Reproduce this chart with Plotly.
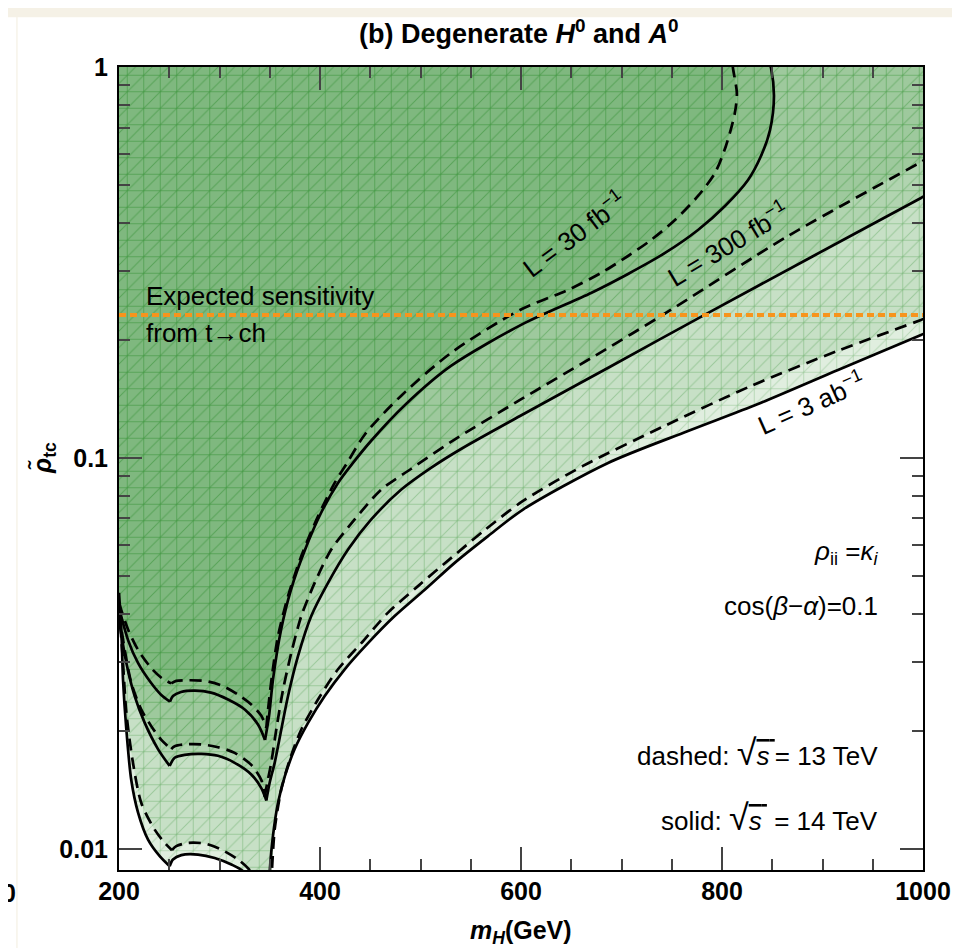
import plotly.graph_objects as go
import math

# ---------------- data ----------------
# mH in GeV, rho_tc (log axis)
s30_m = [200, 209.0, 218.9, 231.8, 241.8, 250.7, 253.7, 261.7, 275.6, 291.5, 308.5, 325.4, 338.3, 345.3,
         349.3, 353.2, 361.2, 371.1, 385.1, 401.0, 417.9, 432.8, 450.7, 484.6, 530.3, 602.0, 669.7, 706.5,
         743.3, 776.1, 803.0, 825.9, 838.8, 847.8, 851.7, 848.8, 845.8]
s30_r = [0.0414, 0.0342, 0.0299, 0.0266, 0.0248, 0.0238, 0.0246, 0.0252, 0.0254, 0.0251, 0.0241, 0.0227,
         0.0208, 0.0190, 0.0219, 0.0271, 0.0363, 0.0460, 0.0582, 0.0723, 0.0863, 0.0971, 0.1105, 0.1366,
         0.1719, 0.2202, 0.2642, 0.2955, 0.3344, 0.3829, 0.4411, 0.5141, 0.5920, 0.6902, 0.8429, 0.994, 1.054]

d30_m = [200, 209.0, 218.9, 232.1, 242.1, 252.0, 257.0, 268.7, 285.3, 301.8, 318.4, 331.6, 341.6, 346.6,
         348.3, 352.2, 358.2, 368.2, 381.4, 398.0, 414.6, 427.9, 444.8, 480.6, 530.3, 599.0, 646.8, 679.6,
         706.5, 729.4, 753.2, 776.1, 793.0, 803.9, 812.8, 814.8, 810.9, 809.9]
d30_r = [0.0426, 0.0364, 0.0323, 0.0290, 0.0274, 0.0265, 0.0269, 0.0270, 0.0269, 0.0262, 0.0248, 0.0234,
         0.0219, 0.0204, 0.0227, 0.0277, 0.0350, 0.0443, 0.0561, 0.0709, 0.0863, 0.0980, 0.1150, 0.1441,
         0.1856, 0.2390, 0.2690, 0.2972, 0.3285, 0.3610, 0.4062, 0.4678, 0.5357, 0.6281, 0.7627, 0.8580,
         0.994, 1.054]

d300_m = [200, 205.7, 212.2, 222.2, 232.1, 242.1, 252.0, 255.4, 265.4, 281.9, 298.5, 315.1, 331.6, 341.6,
          345.0, 347.6, 351.5, 356.5, 363.2, 371.4, 381.4, 394.7, 411.2, 434.5, 461.0, 490.5, 530.3, 599.0,
          670.0, 739.3, 865.7, 998.0, 1003]
d300_r = [0.0402, 0.0323, 0.0266, 0.0227, 0.0206, 0.0190, 0.0180, 0.0183, 0.0185, 0.0185, 0.0182, 0.0176,
          0.0164, 0.0150, 0.0136, 0.0148, 0.0166, 0.0202, 0.0255, 0.0317, 0.0394, 0.0479, 0.0583, 0.0696,
          0.0830, 0.0937, 0.1099, 0.1407, 0.1802, 0.2307, 0.3696, 0.5715, 0.5817]

s300_m = [200, 207.3, 215.6, 225.6, 238.8, 250.4, 255.4, 265.4, 281.9, 298.5, 315.1, 331.6, 341.6, 346.6,
          350.0, 354.9, 361.5, 368.2, 378.1, 391.3, 408.0, 427.9, 451.0, 480.9, 510.4, 540.3, 599.0, 690.0,
          783.1, 890.0, 998.0, 1003]
s300_r = [0.0385, 0.0299, 0.0246, 0.0210, 0.0180, 0.0163, 0.0171, 0.0174, 0.0175, 0.0173, 0.0166, 0.0155,
          0.0143, 0.0133, 0.0148, 0.0166, 0.0202, 0.0246, 0.0311, 0.0394, 0.0479, 0.0583, 0.0696, 0.0830,
          0.0943, 0.1054, 0.1280, 0.1719, 0.2326, 0.3276, 0.4624, 0.4706]

d3000_m = [200, 204.0, 207.3, 213.9, 222.2, 235.5, 245.5, 252.7, 257.0, 268.7, 285.3, 301.8, 318.4, 330.0,
           338.3, 351.2, 352.2, 354.9, 361.5, 369.9, 381.4, 398.0, 417.9, 441.1, 467.7, 497.5, 530.6, 563.9,
           602.0, 661.7, 745.0, 828.9, 915.0, 998.0, 1003]
d3000_r = [0.0418, 0.0299, 0.0223, 0.0166, 0.0131, 0.0112, 0.01036, 0.00992, 0.01016, 0.01036, 0.01032,
           0.00996, 0.00939, 0.00882, 0.0080, 0.0080, 0.00883, 0.0112, 0.0142, 0.0169, 0.0202, 0.0241,
           0.0288, 0.0336, 0.0402, 0.0470, 0.0555, 0.0654, 0.0776, 0.0954, 0.1215, 0.1528, 0.1878, 0.2254,
           0.2281]

s3000_m = [200, 202.3, 204.0, 207.3, 212.2, 218.9, 228.9, 240.5, 250.4, 253.7, 262.0, 278.6, 295.2, 311.8,
           323.4, 333.3, 349.3, 350.0, 353.2, 358.2, 364.9, 374.8, 388.1, 404.7, 424.6, 447.8, 474.3, 504.2,
           534.0, 567.2, 602.0, 686.6, 766.2, 835.8, 915.4, 998.0, 1003]
s3000_r = [0.0452, 0.0364, 0.0271, 0.0202, 0.0150, 0.0124, 0.01056, 0.00958, 0.00903, 0.00939, 0.00964,
           0.00967, 0.00948, 0.00912, 0.00877, 0.0080, 0.0080, 0.00877, 0.0108, 0.0131, 0.0153, 0.0180,
           0.0210, 0.0246, 0.0288, 0.0336, 0.0394, 0.0460, 0.0539, 0.0631, 0.0738, 0.0971, 0.1172, 0.1374,
           0.1679, 0.2064, 0.2088]

rho_sens = 0.232  # expected sensitivity from t -> ch

x_major = [200, 400, 600, 800, 1000]
x_minor = [250, 300, 350, 450, 500, 550, 650, 700, 750, 850, 900, 950]
y_major = [0.01, 0.1, 1]
y_major_text = ["0.01", "0.1", "1"]
y_minor = [0.02, 0.03, 0.04, 0.05, 0.06, 0.07, 0.08, 0.09, 0.2, 0.3, 0.4, 0.5, 0.6, 0.7, 0.8, 0.9]

# ---------------- figure ----------------
FONT = "Liberation Sans, Arial, Helvetica, sans-serif"
W, H = 960, 948
ML, MR, MT, MB = 111, 45, 59, 86
PW, PH = W - ML - MR, H - MT - MB


def px2paper_x(px):
    return (px - ML) / PW


def py2paper_y(py):
    return (H - MB - py) / PH


def split_at_cusps(m, r):
    """split a boundary curve at its downward cusps (local minima of rho)"""
    cuts = [0]
    for i in range(1, len(r) - 1):
        if r[i] <= r[i - 1] and r[i] <= r[i + 1]:
            cuts.append(i)
    cuts.append(len(r) - 1)
    segs = []
    for a, b in zip(cuts[:-1], cuts[1:]):
        if b > a:
            segs.append((m[a:b + 1], r[a:b + 1]))
    return segs


fig = go.Figure()

# layered exclusion regions (outer -> inner)
layers = [
    (s3000_m, s3000_r, "rgb(224,238,223)", "rgba(40,140,40,0.22)"),
    (d3000_m, d3000_r, "rgb(199,224,198)", "rgba(40,140,40,0.28)"),
    (s300_m, s300_r, "rgb(177,212,176)", "rgba(40,140,40,0.33)"),
    (d300_m, d300_r, "rgb(158,201,157)", "rgba(40,140,40,0.38)"),
    (s30_m, s30_r, "rgb(142,192,141)", "rgba(40,140,40,0.42)"),
    (d30_m, d30_r, "rgb(127,184,127)", "rgba(40,140,40,0.46)"),
]
G = 16.5
for m, r, bg, fg in layers:
    xs = list(m) + [m[-1], 600, 190, 190, 195]
    ys = list(r) + [1.6, 1.6, 1.6, r[0], r[0]]
    fig.add_trace(go.Scatter(
        x=xs, y=ys, fill="toself", mode="none", fillcolor=bg, hoverinfo="skip",
        line=dict(shape="spline", smoothing=0.8, width=0),
        fillpattern=dict(shape="+", size=G, solidity=1 - (1 - 1.0 / G) ** 2,
                         fgcolor=fg, bgcolor=bg, fgopacity=1)))
    fig.add_trace(go.Scatter(
        x=xs, y=ys, fill="toself", mode="none", fillcolor="rgba(0,0,0,0)", hoverinfo="skip",
        line=dict(shape="spline", smoothing=0.8, width=0),
        fillpattern=dict(shape="/", size=G / math.sqrt(2), solidity=1.0 / (G / math.sqrt(2)),
                         fgcolor=fg, bgcolor="rgba(0,0,0,0)", fgopacity=1)))

# boundary curves (smooth pieces between the cusps)
DASH = "12px,7px"
curves = [
    (s3000_m, s3000_r, "solid"), (d3000_m, d3000_r, DASH),
    (s300_m, s300_r, "solid"), (d300_m, d300_r, DASH),
    (s30_m, s30_r, "solid"), (d30_m, d30_r, DASH),
]
for m, r, dash in curves:
    for sm, sr in split_at_cusps(m, r):
        fig.add_trace(go.Scatter(x=sm, y=sr, mode="lines", hoverinfo="skip",
                                 line=dict(color="black", width=2.7, dash=dash,
                                           shape="spline", smoothing=0.8)))

# expected sensitivity line
fig.add_trace(go.Scatter(x=[200, 1000], y=[rho_sens, rho_sens], mode="lines", hoverinfo="skip",
                         line=dict(color="#f7941d", width=4, dash="7px,4px")))

tick_font = dict(family=FONT, size=25, color="black", weight="bold")
fig.update_xaxes(
    range=[200, 1000], tickvals=x_major, ticktext=[str(v) for v in x_major],
    ticks="inside", ticklen=23, tickwidth=1.5, tickcolor="#444",
    showline=True, linecolor="black", linewidth=2, mirror="ticks",
    showgrid=False, zeroline=False, tickfont=tick_font, ticklabelstandoff=-2,
    minor=dict(tickvals=x_minor, ticks="inside", ticklen=11, tickwidth=1.5, tickcolor="#444", showgrid=False),
)
fig.update_yaxes(
    type="log", range=[math.log10(0.00883), 0], tickvals=y_major, ticktext=y_major_text,
    ticks="inside", ticklen=23, tickwidth=1.5, tickcolor="#444",
    showline=True, linecolor="black", linewidth=2, mirror="ticks",
    showgrid=False, zeroline=False, tickfont=tick_font, ticklabelstandoff=4,
    minor=dict(tickvals=y_minor, ticks="inside", ticklen=11, tickwidth=1.5, tickcolor="#444", showgrid=False),
)

txt = dict(family=FONT, size=26, color="black")
RAD = "<span style='font-size:36px'>\u221a</span>"
SOVER = "<span style='text-decoration:overline'><i>s</i>\u2009</span>"
ann = []
# title
ann.append(dict(xref="paper", yref="paper", x=px2paper_x(511), y=py2paper_y(24),
                text="<b>(b) Degenerate <i>H</i><sup>0</sup> and <i>A</i><sup>0</sup></b>",
                showarrow=False, xanchor="center", yanchor="middle",
                font=dict(family=FONT, size=27, color="black")))
# axis titles
ann.append(dict(xref="paper", yref="paper", x=0.5, y=py2paper_y(924),
                text="<b><i>m</i><sub><i>H</i></sub>(GeV)</b>", showarrow=False,
                xanchor="center", yanchor="middle", font=dict(family=FONT, size=25, color="black")))
ann.append(dict(xref="paper", yref="paper", x=px2paper_x(36), y=py2paper_y(450),
                text="<b><i>\u03c1\u0303</i><sub>tc</sub></b>", showarrow=False, textangle=-90,
                xanchor="center", yanchor="middle", font=dict(family=FONT, size=25, color="black")))
# sensitivity text
ann.append(dict(x=224.9, y=math.log10(0.2597), text="Expected sensitivity", showarrow=False,
                xanchor="left", yanchor="middle", font=txt))
ann.append(dict(x=224.9, y=math.log10(0.2088), text="from t\u2192ch", showarrow=False,
                xanchor="left", yanchor="middle", font=txt))
# curve labels
ann.append(dict(x=653, y=-0.425, text="L = 30 fb<sup>\u22121</sup>", showarrow=False, textangle=-37,
                xanchor="center", yanchor="middle", font=txt))
ann.append(dict(x=806, y=-0.452, text="L = 300 fb<sup>\u22121</sup>", showarrow=False, textangle=-31,
                xanchor="center", yanchor="middle", font=txt))
ann.append(dict(x=889, y=-0.858, text="L = 3 ab<sup>\u22121</sup>", showarrow=False, textangle=-24,
                xanchor="center", yanchor="middle", font=txt))
# right-hand notes
ann.append(dict(x=957, y=-1.243, text="<i>\u03c1</i><sub>ii</sub> =<i>\u03ba</i><sub><i>i</i></sub>",
                showarrow=False, xanchor="right", yanchor="middle", font=txt))
ann.append(dict(x=957, y=-1.3785, text="cos(<i>\u03b2</i>\u2212<i>\u03b1</i>)=0.1",
                showarrow=False, xanchor="right", yanchor="middle", font=txt))
ann.append(dict(x=957, y=-1.7545, text="dashed: " + RAD + SOVER + "= 13 TeV",
                showarrow=False, xanchor="right", yanchor="middle", font=txt))
ann.append(dict(x=957, y=-1.9207, text="solid: " + RAD + SOVER + " = 14 TeV",
                showarrow=False, xanchor="right", yanchor="middle", font=txt))
# clipped neighbour label at far left
ann.append(dict(xref="paper", yref="paper", x=px2paper_x(1), y=py2paper_y(885), text="<b>0</b>",
                showarrow=False, xanchor="center", yanchor="middle",
                font=dict(family=FONT, size=25, color="black")))

beige = "rgb(245,241,230)"
shapes = [
    dict(type="rect", xref="paper", yref="paper", x0=px2paper_x(-5), x1=px2paper_x(965),
         y0=py2paper_y(9.3), y1=py2paper_y(-5), fillcolor=beige, line=dict(width=0), layer="below"),
    dict(type="rect", xref="paper", yref="paper", x0=px2paper_x(944), x1=px2paper_x(965),
         y0=py2paper_y(953), y1=py2paper_y(-5), fillcolor=beige, line=dict(width=0), layer="below"),
    dict(type="rect", xref="paper", yref="paper", x0=px2paper_x(8.3), x1=px2paper_x(9.6),
         y0=py2paper_y(953), y1=py2paper_y(-5), fillcolor=beige, line=dict(width=0), layer="below"),
]

fig.update_layout(
    width=W, height=H, margin=dict(l=ML, r=MR, t=MT, b=MB),
    paper_bgcolor="white", plot_bgcolor="white", showlegend=False,
    annotations=ann, shapes=shapes, font=dict(family=FONT),
)

fig.write_html("out.html")
